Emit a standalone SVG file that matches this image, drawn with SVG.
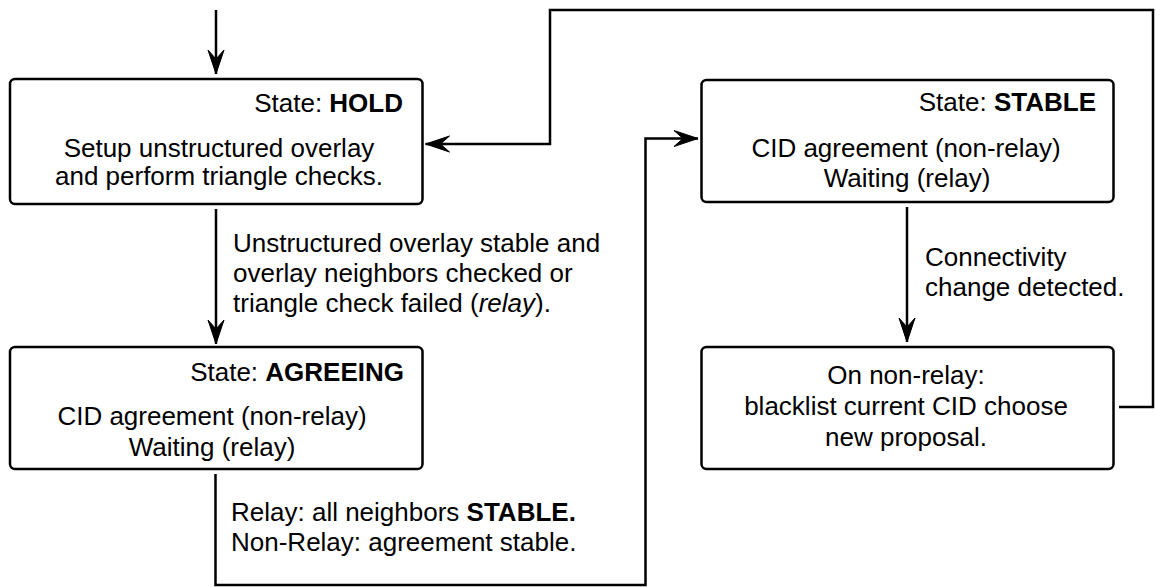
<svg xmlns="http://www.w3.org/2000/svg" width="1156" height="587" viewBox="0 0 1156 587">
  <style>
    text { font-family: "Liberation Sans", Arial, sans-serif; font-size: 26px; fill: #000; }
    .box { fill: #fff; stroke: #000; stroke-width: 2.5; }
    .wire { fill: none; stroke: #000; stroke-width: 2.5; }
    .mid { text-anchor: middle; }
    .end { text-anchor: end; }
    .b { font-weight: bold; }
    .i { font-style: italic; }
  </style>
  <defs>
    <marker id="arrow" markerUnits="userSpaceOnUse" viewBox="-26 -9 28 18" refX="0" refY="0" markerWidth="28" markerHeight="18" orient="auto" overflow="visible">
      <path d="M0,0 L-24,-8 L-15,0 L-24,8 Z" fill="#000" stroke="#000" stroke-width="1" stroke-linejoin="miter"/>
    </marker>
  </defs>
  <rect width="1156" height="587" fill="#fff"/>

  <!-- transitions -->
  <g id="connectors">
    <path class="wire" d="M216,10 V74" marker-end="url(#arrow)"/>
    <path class="wire" d="M216,209 V344" marker-end="url(#arrow)"/>
    <path class="wire" d="M215.5,474 V585 H645.5 V138.5 H698" marker-end="url(#arrow)"/>
    <path class="wire" d="M907,207 V342" marker-end="url(#arrow)"/>
    <path class="wire" d="M1119,407 H1153 V10 H550 V144 H425.5" marker-end="url(#arrow)"/>

    <text x="233" y="251.5">Unstructured overlay stable and</text>
    <text x="233" y="281.5">overlay neighbors checked or</text>
    <text x="233" y="311.5">triangle check failed (<tspan class="i">relay</tspan>).</text>

    <text x="925" y="266">Connectivity</text>
    <text x="925" y="296">change detected.</text>

    <text x="231" y="520.5">Relay: all neighbors <tspan class="b">STABLE.</tspan></text>
    <text x="231" y="550.5">Non-Relay: agreement stable.</text>
  </g>

  <g id="state-hold">
    <rect class="box" x="10" y="79" width="412.5" height="125" rx="5"/>
    <text class="end" x="403" y="112">State: <tspan class="b">HOLD</tspan></text>
    <text class="mid" x="219" y="156.5">Setup unstructured overlay</text>
    <text class="mid" x="219" y="185">and perform triangle checks.</text>
  </g>

  <g id="state-agreeing">
    <rect class="box" x="10" y="347" width="412.5" height="122" rx="5"/>
    <text class="end" x="404" y="381">State: <tspan class="b">AGREEING</tspan></text>
    <text class="mid" x="212" y="425">CID agreement (non-relay)</text>
    <text class="mid" x="212" y="456">Waiting (relay)</text>
  </g>

  <g id="state-stable">
    <rect class="box" x="701.5" y="80" width="412" height="122" rx="5"/>
    <text class="end" x="1096" y="111">State: <tspan class="b">STABLE</tspan></text>
    <text class="mid" x="906" y="156.5">CID agreement (non-relay)</text>
    <text class="mid" x="907" y="186.5">Waiting (relay)</text>
  </g>

  <g id="state-blacklist">
    <rect class="box" x="701.5" y="347" width="412" height="122" rx="5"/>
    <text class="mid" x="906" y="384">On non-relay:</text>
    <text class="mid" x="906" y="415">blacklist current CID choose</text>
    <text class="mid" x="906" y="446">new proposal.</text>
  </g>
</svg>
